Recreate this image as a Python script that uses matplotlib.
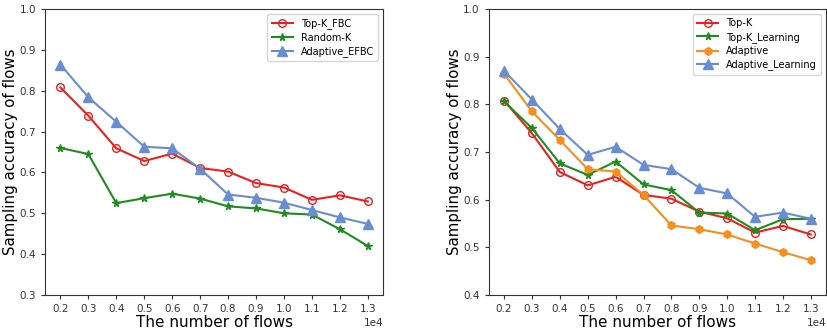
import matplotlib
matplotlib.use('Agg')
import matplotlib.pyplot as plt
from matplotlib.ticker import ScalarFormatter

flows = [2000, 3000, 4000, 5000, 6000, 7000, 8000, 9000, 10000, 11000, 12000, 13000]

# left panel
topk_fbc = [0.808, 0.739, 0.659, 0.628, 0.646, 0.611, 0.602, 0.574, 0.563, 0.533, 0.544, 0.529]
random_k = [0.660, 0.645, 0.525, 0.537, 0.548, 0.536, 0.517, 0.512, 0.500, 0.497, 0.461, 0.420]
adaptive_efbc = [0.864, 0.784, 0.724, 0.663, 0.659, 0.609, 0.546, 0.538, 0.526, 0.508, 0.490, 0.474]

# right panel
topk = [0.808, 0.739, 0.658, 0.630, 0.648, 0.610, 0.602, 0.575, 0.561, 0.531, 0.545, 0.527]
topk_learning = [0.806, 0.750, 0.676, 0.652, 0.680, 0.632, 0.620, 0.573, 0.571, 0.536, 0.559, 0.560]
adaptive = [0.864, 0.785, 0.725, 0.664, 0.659, 0.610, 0.546, 0.538, 0.527, 0.508, 0.490, 0.473]
adaptive_learning = [0.870, 0.810, 0.748, 0.694, 0.711, 0.673, 0.664, 0.625, 0.613, 0.564, 0.573, 0.560]

RED = '#e8221e'
GREEN = '#1f8c1f'
ORANGE = '#f5901e'
BLUE = '#6a8cd2'

fig = plt.figure(figsize=(8.27, 3.33), dpi=100)
ax1 = fig.add_axes([0.0544, 0.114, 0.409, 0.859])
ax2 = fig.add_axes([0.591, 0.114, 0.408, 0.859])


def style(ax, ylim, yticks):
    ax.set_xlim(1450, 13550)
    ax.set_ylim(*ylim)
    ax.set_yticks(yticks)
    ax.set_xticks(flows)
    fmt = ScalarFormatter(useMathText=False)
    fmt.set_powerlimits((0, 0))
    ax.xaxis.set_major_formatter(fmt)
    ax.tick_params(labelsize=7.5, colors='#333333', length=3)
    ax.xaxis.get_offset_text().set_fontsize(7.5)
    ax.set_xlabel("The number of flows", fontsize=11, labelpad=1)
    ax.set_ylabel("Sampling accuracy of flows", fontsize=10.8, labelpad=1)
    for s in ax.spines.values():
        s.set_color('#333333')
    ax.legend(loc='upper right', fontsize=7, handlelength=2.2,
              borderpad=0.45, labelspacing=0.35)


ms = 5.5
ax1.plot(flows, topk_fbc, color=RED, marker='o', mfc='none', mec=RED, ms=ms, lw=1.5, label='Top-K_FBC')
ax1.plot(flows, random_k, color=GREEN, marker='*', ms=ms, lw=1.5, label='Random-K')
ax1.plot(flows, adaptive_efbc, color=BLUE, marker='^', ms=ms + 1, lw=1.5, label='Adaptive_EFBC')
style(ax1, (0.3, 1.0), [0.3, 0.4, 0.5, 0.6, 0.7, 0.8, 0.9, 1.0])

ax2.plot(flows, topk, color=RED, marker='o', mfc='none', mec=RED, ms=ms, lw=1.5, label='Top-K')
ax2.plot(flows, topk_learning, color=GREEN, marker='*', ms=ms, lw=1.5, label='Top-K_Learning')
ax2.plot(flows, adaptive, color=ORANGE, marker='h', ms=ms, lw=1.5, label='Adaptive')
ax2.plot(flows, adaptive_learning, color=BLUE, marker='^', ms=ms + 1, lw=1.5, label='Adaptive_Learning')
style(ax2, (0.4, 1.0), [0.4, 0.5, 0.6, 0.7, 0.8, 0.9, 1.0])

plt.savefig("out.png", dpi=100)
plt.close()
